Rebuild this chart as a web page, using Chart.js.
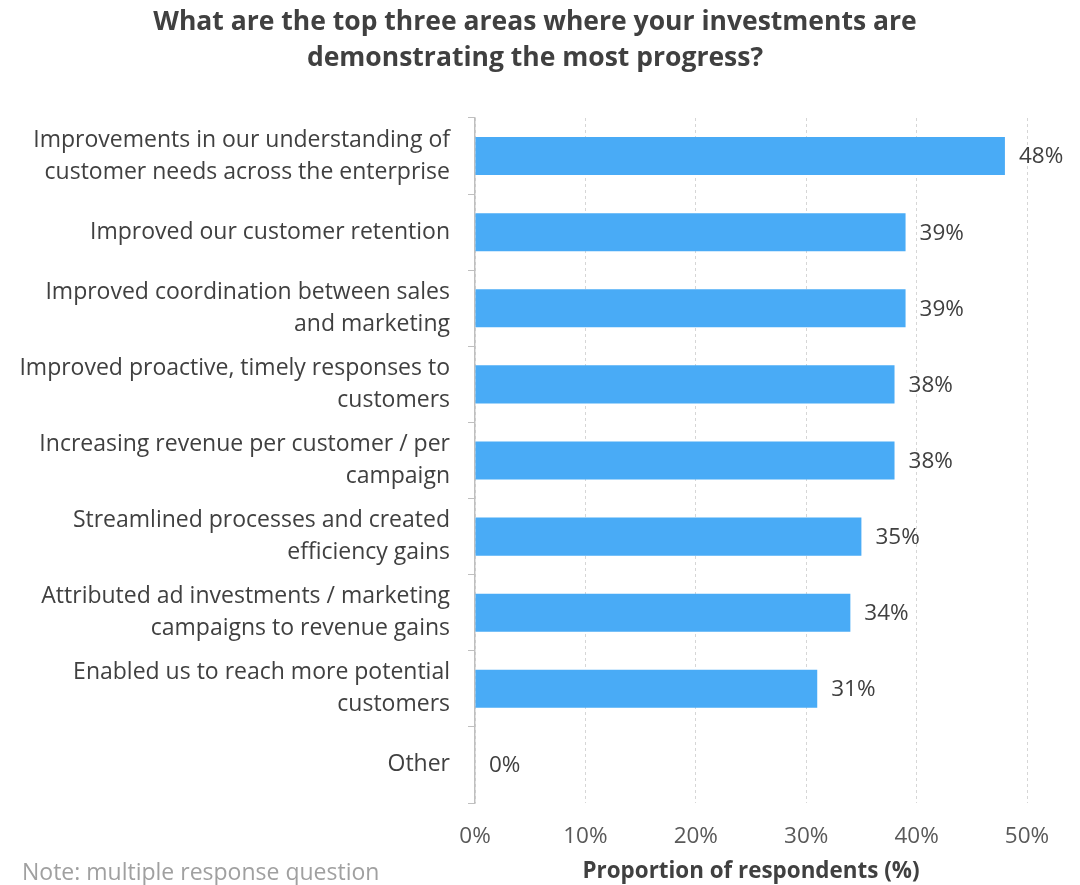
<!DOCTYPE html>
<html lang="en">
<head>
<meta charset="UTF-8">
<title>Investment progress areas</title>
<script src="https://cdn.jsdelivr.net/npm/chart.js@4"></script>
<style>
  html, body { margin: 0; padding: 0; background: #fff; }
  #wrap { width: 1080px; height: 885px; position: relative; }
</style>
</head>
<body>
<div id="wrap"><canvas id="chart" width="1080" height="885"></canvas></div>
<script>
// categories, one array per label line
const areas = [
  ['Improvements in our understanding of', 'customer needs across the enterprise'],
  ['Improved our customer retention'],
  ['Improved coordination between sales', 'and marketing'],
  ['Improved proactive, timely responses to', 'customers'],
  ['Increasing revenue per customer / per', 'campaign'],
  ['Streamlined processes and created', 'efficiency gains'],
  ['Attributed ad investments / marketing', 'campaigns to revenue gains'],
  ['Enabled us to reach more potential', 'customers'],
  ['Other']
];
// % of respondents
const shares = [48, 39, 39, 38, 38, 35, 34, 31, 0];
const xTicks = [0, 10, 20, 30, 40, 50];
const titleLines = ['What are the top three areas where your investments are', 'demonstrating the most progress?'];

const FONT = '"Open Sans", sans-serif';
const TEXT = '#404040';

// page title (centred on the page, not the plot), value labels, footnote
const decorations = {
  id: 'decorations',
  afterDraw(chart) {
    const ctx = chart.ctx;
    ctx.save();
    ctx.font = 'bold 26.5px ' + FONT;
    ctx.fillStyle = TEXT;
    ctx.textAlign = 'center';
    ctx.textBaseline = 'middle';
    titleLines.forEach((line, i) => ctx.fillText(line, chart.width / 2 - 5, 22 + i * 36));

    const meta = chart.getDatasetMeta(0);
    ctx.font = '22.5px ' + FONT;
    ctx.textAlign = 'left';
    meta.data.forEach((bar, i) => {
      ctx.fillText(shares[i] + '%', bar.x + 14, bar.y + 1);
    });
    ctx.font = '23px ' + FONT;
    ctx.fillStyle = '#a0a0a0';
    ctx.fillText('Note: multiple response question', 22, 873);
    ctx.restore();
  }
};

new Chart(document.getElementById('chart'), {
  type: 'bar',
  data: {
    labels: areas,
    datasets: [{
      data: shares,
      backgroundColor: '#49abf6',
      borderWidth: 0,
      barPercentage: 0.5,
      categoryPercentage: 1
    }]
  },
  options: {
    indexAxis: 'y',
    responsive: false,
    animation: false,
    layout: { padding: { left: 0, right: 53, top: 118, bottom: 0 } },
    plugins: {
      legend: { display: false },
      tooltip: { enabled: false },
      title: { display: false }
    },
    scales: {
      x: {
        min: 0,
        max: 50,
        afterBuildTicks(scale) { scale.ticks = xTicks.map(v => ({ value: v })); },
        afterFit(scale) { scale.height = 82; },
        grid: { color: '#d6d6d6', drawTicks: false },
        border: { display: false, dash: [3, 3] },
        ticks: {
          color: '#595959',
          padding: 20,
          font: { family: FONT, size: 22.5 },
          callback: v => v + '%'
        },
        title: {
          display: true,
          text: 'Proportion of respondents (%)',
          color: TEXT,
          font: { family: FONT, size: 22.4, weight: 'bold' },
          padding: { top: 4, bottom: 0 }
        }
      },
      y: {
        afterFit(scale) { scale.width = 475; },
        grid: { drawOnChartArea: false, drawTicks: true, tickLength: 7, color: '#bfbfbf', offset: true },
        border: { display: true, color: '#bfbfbf', width: 1.5 },
        ticks: {
          autoSkip: false,
          color: TEXT,
          padding: 18,
          font: { family: FONT, size: 23, lineHeight: 1.39 }
        }
      }
    }
  },
  plugins: [decorations]
});
</script>
</body>
</html>
